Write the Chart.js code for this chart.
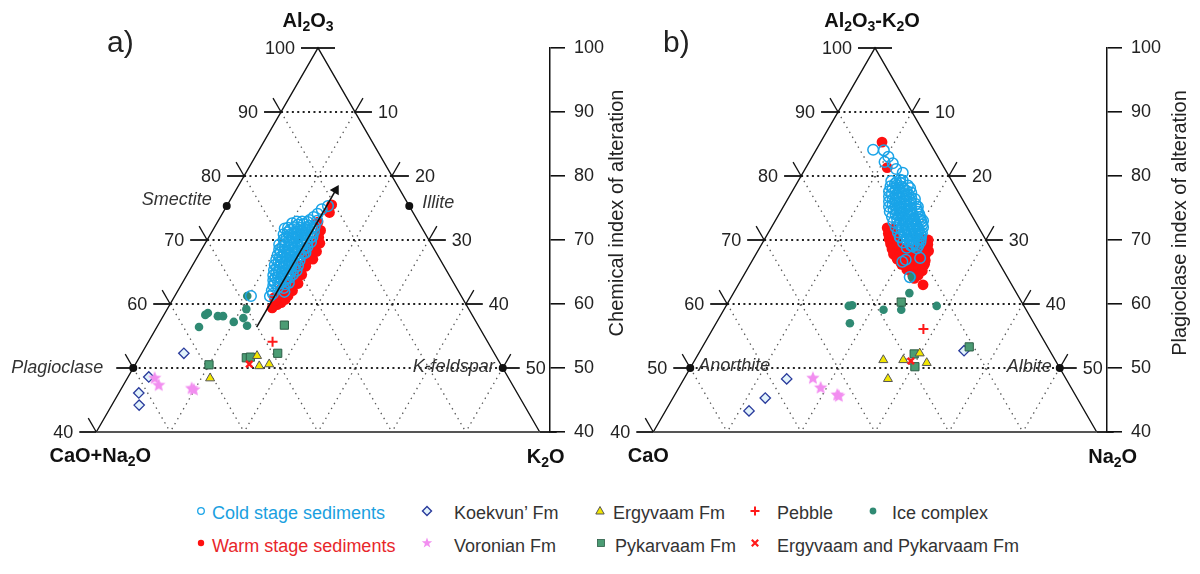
<!DOCTYPE html>
<html><head><meta charset="utf-8">
<script src="https://cdn.jsdelivr.net/npm/chart.js@4.4.0/dist/chart.umd.min.js"></script>
<style>
html,body{margin:0;padding:0;background:#fff;width:1200px;height:574px;overflow:hidden;font-family:"Liberation Sans",Arial,Helvetica,sans-serif;}
#chartA{position:absolute;left:0;top:0;}
#chartB{position:absolute;left:600px;top:0;}
.lg{position:absolute;font-size:18px;line-height:20px;color:#333;white-space:nowrap;}
.mk{position:absolute;width:16px;height:16px;}
</style></head><body>
<canvas id="chartA" width="640" height="470"></canvas>
<canvas id="chartB" width="597" height="470"></canvas>
<div id="legend"></div>
<script>
// ================= DATA =================
const aLevels = [100, 90, 80, 70, 60, 50, 40];
const gridLevels = [10, 20, 30, 40, 50];
const leftTickLabelsA  = ['100','90','80','70','60','','40'];
const rightTickLabelsA = ['','10','20','30','40','50',''];
const leftTickLabelsB  = ['100','90','80','70','60','50','40'];
const rightTickLabelsB = ['','10','20','30','40','50',''];
const indexTicks = [40, 50, 60, 70, 80, 90, 100];

// ---- panel a: pairs [Al2O3, K2O] (CaO+Na2O = 100 - both) ----
const coldStageA = [
 [75.3,13.7],[74.8,13.1],[74.1,12.9],[73.6,12.6],[73.1,12.3],[73.0,13.4],
 [72.6,10.2],[72.4,11.1],[72.5,11.8],[72.2,12.7],[72.1,13.5],
 [71.8,9.6],[71.6,10.4],[71.7,11.3],[71.4,12.1],[71.6,12.9],[71.3,13.8],
 [70.9,9.9],[70.8,10.8],[71.0,11.6],[70.6,12.4],[70.8,13.2],[70.5,14.0],
 [70.1,10.3],[69.9,11.1],[70.2,11.9],[69.8,12.7],[70.0,13.5],[69.7,14.2],
 [69.3,10.1],[69.1,10.9],[69.3,11.7],[68.9,12.5],[69.2,13.3],[68.9,14.1],
 [68.5,10.5],[68.2,11.3],[68.5,12.1],[68.1,12.9],[68.4,13.7],[68.0,14.3],
 [67.7,10.7],[67.4,11.5],[67.7,12.3],[67.3,13.1],[67.6,13.9],
 [66.9,10.9],[66.6,11.7],[66.9,12.5],[66.5,13.3],[66.8,14.1],
 [66.1,11.1],[65.8,11.9],[66.1,12.7],[65.7,13.5],[66.0,14.3],
 [65.3,11.4],[65.0,12.2],[65.3,13.0],[64.9,13.8],[65.2,14.5],
 [64.5,11.7],[64.2,12.5],[64.5,13.3],[64.1,14.1],
 [63.7,12.1],[63.4,12.9],[63.7,13.7],[63.3,14.4],
 [62.9,12.5],[62.6,13.3],[62.5,14.1],
 [62.1,12.7],[61.6,13.1],[61.9,14.5],[61.2,12.9],[61.25,10.3],
 [72.9,11.4],[72.8,12.2],[72.9,10.7],
 [71.9,10.0],[72.0,10.8],[71.9,11.7],[72.0,12.5],[71.8,13.3],
 [71.2,10.3],[71.1,11.2],[71.3,12.0],[71.0,12.8],[71.1,13.6],
 [70.5,10.5],[70.4,11.4],[70.6,12.1],[70.3,12.9],[70.4,13.8],
 [69.7,10.6],[69.6,11.5],[69.7,12.3],[69.4,13.0],[69.5,13.8],
 [68.9,10.7],[68.8,11.6],[68.9,12.2],[68.6,13.0],[68.7,13.9],
 [68.1,10.9],[68.0,11.8],[68.1,12.6],[67.9,13.4],[67.9,14.1],
 [67.3,11.2],[67.2,12.0],[67.3,12.8],[67.0,13.6],
 [66.5,11.4],[66.4,12.2],[66.5,13.0],[66.3,13.8],
 [65.7,11.6],[65.6,12.4],[65.7,13.2],[65.5,14.0],
 [64.9,11.9],[64.8,12.7],[64.9,13.5],[64.6,14.3],
 [64.1,12.2],[64.0,13.0],[64.0,13.8],
 [63.3,12.5],[63.2,13.3],[63.1,14.0]
];
const warmStageA = [
 [75.5,14.1],[74.3,14.4],[72.8,13.6],[71.5,14.6],[70.4,14.9],[69.6,15.1],[69.0,14.8],[68.3,15.3],
 [67.8,15.0],[67.1,15.5],[66.5,15.1],[65.9,15.4],[65.2,15.0],[64.6,15.5],[64.0,15.2],[63.5,14.9],
 [63.2,15.7],[62.8,15.1],[62.4,14.6],[62.1,15.5],[61.8,14.9],[61.5,14.3],[61.3,15.3],[61.0,14.7],
 [60.7,15.2],[60.5,14.4],[60.2,14.9],[59.9,14.5],[59.4,14.1],[63.0,14.2],[62.3,13.8],[61.0,13.6],
 [60.6,13.9],[64.8,14.6],[66.0,14.6],[67.5,14.5],[68.8,14.4],[67.0,15.8],[68.2,15.7],[69.5,15.5]
];
const koekvunA   = [[52.3,5.7],[48.6,2.8],[46.1,2.7],[44.2,3.7]];
const voronianA  = [[48.4,3.7],[47.3,4.8],[46.6,9.9],[46.8,9.5]];
const ergyvaamA  = [[48.4,11.2],[51.9,15.8],[50.3,16.9],[50.6,18.1]];
const pykarvaamA = [[50.5,10.0],[51.6,14.5],[51.7,15.0],[52.3,18.4],[56.7,17.1]];
const pebbleA    = [[54.1,16.8]];
const ergPykA    = [[50.6,15.4]];
const iceComplexA = [[61.25,9.8],[58.6,5.8],[58.3,5.6],[58.1,7.4],[58.1,8.1],[59.2,10.7],[57.8,11.0],[57.2,10.0],[56.6,12.1],[56.4,5.7]];
const arrowAlA = [56.4, 78.6];
const arrowKA  = [13.5, 13.5];
const mineralNamesA = ['Smectite','Illite','Plagioclase','K-feldspar'];
const mineralAlA = [75.3, 75.3, 50, 50];
const mineralKA  = [0, 24.7, 0, 50];

// ---- panel b: pairs [Al2O3-K2O, Na2O] (CaO = 100 - both) ----
const coldStageB = [
 [84.1,7.7],[84.0,9.2],[83.0,10.3],[82.2,10.2],[82.0,11.4],[81.1,12.3],[80.5,13.5],[79.4,13.7],
 [79.2,12.6],[79.0,13.4],[79.3,14.1],
 [78.4,12.9],[78.6,13.7],[78.3,14.5],[78.5,15.2],
 [77.6,13.1],[77.8,13.9],[77.5,14.6],[77.7,15.4],[77.4,16.2],
 [76.8,13.5],[77.0,14.3],[76.7,15.0],[76.9,15.8],[76.6,16.6],
 [76.0,13.9],[76.2,14.7],[75.9,15.4],[76.1,16.2],[75.8,17.0],
 [75.2,14.3],[75.4,15.1],[75.1,15.8],[75.3,16.6],[75.0,17.4],[75.2,18.2],
 [74.4,14.8],[74.6,15.6],[74.3,16.3],[74.5,17.1],[74.2,17.9],[74.4,18.6],
 [73.6,15.5],[73.8,16.3],[73.5,17.0],[73.7,17.8],[73.4,18.6],[73.6,19.3],
 [72.8,16.1],[73.0,16.9],[72.7,17.6],[72.9,18.4],[72.6,19.2],[72.8,19.9],
 [72.0,16.8],[72.2,17.6],[71.9,18.3],[72.1,19.1],[71.8,19.9],[72.0,20.5],
 [71.2,17.5],[71.4,18.3],[71.1,19.0],[71.3,19.8],[71.0,20.6],
 [70.4,18.2],[70.6,19.0],[70.3,19.7],[70.5,20.5],[70.2,21.1],
 [69.6,19.0],[69.8,19.8],[69.5,20.5],[69.7,21.3],
 [68.8,19.9],[69.0,20.6],[68.7,21.3],
 [66.6,20.4],[66.9,20.7],[64.2,22.6],[67.2,22.5],[70.5,18.1],[69.1,20.5],[69.1,21.3],[73.0,20.0],[71.1,20.8],
 [78.8,13.3],[78.9,14.0],[78.0,13.4],[78.1,14.2],[78.0,14.9],[78.1,15.7],
 [77.2,13.7],[77.3,14.5],[77.2,15.3],[77.1,16.0],
 [76.4,14.2],[76.5,15.0],[76.4,15.8],[76.3,16.6],[76.4,17.2],
 [75.6,14.6],[75.7,15.4],[75.6,16.2],[75.5,17.0],[75.6,17.7],
 [74.8,15.1],[74.9,15.9],[74.8,16.7],[74.7,17.5],[74.8,18.3],
 [74.0,15.8],[74.1,16.6],[74.0,17.4],[73.9,18.2],[74.0,19.0],
 [73.2,16.4],[73.3,17.2],[73.2,18.0],[73.1,18.8],[73.2,19.6],
 [72.4,17.1],[72.5,17.9],[72.4,18.7],[72.3,19.5],[72.4,20.2],
 [71.6,17.8],[71.7,18.6],[71.6,19.4],[71.5,20.2],
 [70.8,18.6],[70.9,19.4],[70.8,20.1],[70.7,20.9],
 [70.0,19.3],[70.1,20.1],[70.0,20.9],
 [69.2,20.2],[69.3,21.0]
];
const warmStageB = [
 [85.3,8.3],[81.3,11.0],
 [71.9,15.7],[71.7,16.5],[71.0,16.3],[70.9,17.2],[70.2,16.8],[70.3,17.6],[70.1,21.6],[70.0,22.2],
 [69.4,17.4],[69.3,18.3],[69.5,21.2],[69.3,22.5],
 [68.6,18.0],[68.5,18.9],[68.7,19.8],[68.4,20.8],[68.6,21.8],[68.4,22.7],[68.3,23.1],
 [67.8,18.6],[67.7,19.5],[67.9,20.4],[67.6,21.3],[67.8,22.2],[67.6,23.0],
 [67.0,19.5],[66.9,20.3],[67.1,21.2],[66.8,22.0],[67.0,22.8],[66.8,23.4],
 [66.2,20.5],[66.1,21.3],[66.3,22.2],[66.0,23.0],[66.2,23.6],
 [65.4,21.6],[65.3,22.4],[65.5,23.2],[65.2,23.8],
 [64.6,22.8],[64.5,23.6],[64.0,23.3],[63.0,25.0]
];
const koekvunB   = [[52.7,35.7],[48.3,13.9],[45.3,12.5],[43.3,11.3]];
const voronianB  = [[48.4,17.4],[46.9,19.2],[45.8,22.0],[45.6,22.3]];
const ergyvaamB  = [[51.25,25.5],[51.25,28.2],[52.3,29.9],[50.8,31.6],[48.3,27.6]];
const pykarvaamB = [[60.3,23.4],[52.2,29.2],[50.2,30.3],[53.3,36.1]];
const pebbleB    = [[56.1,28.5]];
const ergPykB    = [[51.1,29.3]];
const iceComplexB = [[59.8,17.0],[59.7,16.6],[57.0,18.1],[59.1,21.6],[59.1,24.0],[61.7,23.8],[64.2,22.9],[59.7,28.5]];
const mineralNamesB = ['Anorthite','Albite'];
const mineralAlB = [50, 50];
const mineralNaB = [0, 50];

// legend
const legendLabels = ['Cold stage sediments','Koekvun\u2019 Fm','Ergyvaam Fm','Pebble','Ice complex',
                      'Warm stage sediments','Voronian Fm','Pykarvaam Fm','Ergyvaam and Pykarvaam Fm'];
const legendKeys = ['cold','koek','ergy','peb','ice','warm','voro','pyk','ep'];

// ================= STYLE / HELPERS =================
const FONT = '"Liberation Sans", Arial, Helvetica, sans-serif';
const COL = {cold:'#1aa4e8', warm:'#ff1010', koekS:'#2a3b9c', koekF:'#e2f3fb', voro:'#f28ef0',
  ergyF:'#f2e600', ergyS:'#555', pykF:'#4b9c74', pykS:'#2d5e47', red:'#ff1a1a', ice:'#2f8a73'};

function starCanvas(r, fill){
  const c = document.createElement('canvas'); const s = Math.ceil(r*2+2);
  c.width = c.height = s; const g = c.getContext('2d');
  g.beginPath();
  for (let i=0;i<10;i++){ const an = -Math.PI/2 + i*Math.PI/5; const rr = i%2 ? r*0.45 : r;
    g.lineTo(s/2 + rr*Math.cos(an), s/2 + rr*Math.sin(an)); }
  g.closePath(); g.fillStyle = fill; g.fill(); return c;
}
const starImg = starCanvas(7, COL.voro);

const toXY = pairs => pairs.map(([a, r]) => ({x: r + a/2, y: a}));

function pointsDS(label, pairs, st, order){
  return Object.assign({label, data: toXY(pairs), order, clip:false, showLine:false}, st);
}

function seriesSets(d){
  return [
    pointsDS('Ergyvaam and Pykarvaam Fm', d.ergPyk, {pointStyle:'crossRot', pointRadius:4.5, borderColor:COL.red, borderWidth:2.5}, 3),
    pointsDS('Pebble', d.pebble, {pointStyle:'cross', pointRadius:5, borderColor:COL.red, borderWidth:2}, 4),
    pointsDS('Ergyvaam Fm', d.ergy, {pointStyle:'triangle', pointRadius:5.2, backgroundColor:COL.ergyF, borderColor:COL.ergyS, borderWidth:1}, 5),
    pointsDS('Pykarvaam Fm', d.pyk, {pointStyle:'rect', pointRadius:5.8, backgroundColor:COL.pykF, borderColor:COL.pykS, borderWidth:1}, 6),
    pointsDS('Voronian Fm', d.voro, {pointStyle:starImg, pointRadius:7}, 7),
    pointsDS('Koekvun\u2019 Fm', d.koek, {pointStyle:'rectRot', pointRadius:5.2, backgroundColor:COL.koekF, borderColor:COL.koekS, borderWidth:1.3}, 8),
    pointsDS('Cold stage sediments', d.cold, {pointStyle:'circle', pointRadius:5.3, backgroundColor:'rgba(0,0,0,0)', borderColor:COL.cold, borderWidth:1.5}, 10),
    pointsDS('Ice complex', d.ice, {pointStyle:'circle', pointRadius:4.3, backgroundColor:COL.ice, borderColor:COL.ice, borderWidth:0}, 11),
    pointsDS('Warm stage sediments', d.warm, {pointStyle:'circle', pointRadius:5.4, backgroundColor:COL.warm, borderColor:COL.warm, borderWidth:0}, 12),
    pointsDS('minerals', d.minPairs, {pointStyle:'circle', pointRadius:4, backgroundColor:'#111', borderColor:'#111', borderWidth:0}, 2)
  ];
}

function richText(ctx, parts, x, y, size, align, bold){
  const w0 = bold ? 'bold ' : '';
  const big = `${w0}${size}px ${FONT}`, small = `${w0}${Math.round(size*0.68)}px ${FONT}`;
  let w = 0; parts.forEach(([t,s]) => { ctx.font = s?small:big; w += ctx.measureText(t).width; });
  let cx = align==='center' ? x - w/2 : (align==='right' ? x - w : x);
  ctx.textAlign = 'left'; ctx.textBaseline = 'alphabetic';
  parts.forEach(([t,s]) => { ctx.font = s?small:big; ctx.fillText(t, cx, s ? y + size*0.22 : y); cx += ctx.measureText(t).width; });
}

const ternaryPlugin = {
  id: 'ternary',
  beforeDatasetsDraw(chart, args, o){
    const ctx = chart.ctx, xs = chart.scales.x, ys = chart.scales.y;
    const P = (a, r) => [xs.getPixelForValue(r + a/2), ys.getPixelForValue(a)];
    const seg = (p, q) => { ctx.beginPath(); ctx.moveTo(p[0], p[1]); ctx.lineTo(q[0], q[1]); ctx.stroke(); };
    const lo = aLevels[aLevels.length-1];
    ctx.save();
    ctx.setLineDash([1.4, 4.3]); ctx.lineWidth = 1.3; ctx.strokeStyle = '#555';
    gridLevels.forEach(g => { seg(P(100-g, g), P(lo, g)); seg(P(100-g, 0), P(lo, 100-lo-g)); });
    ctx.setLineDash([2, 3.4]); ctx.lineWidth = 2; ctx.strokeStyle = '#222';
    gridLevels.forEach(g => seg(P(100-g, 0), P(100-g, g)));
    ctx.setLineDash([]);
    const ap = P(100,0), lv = P(lo,0), rv = P(lo,100-lo);
    ctx.lineWidth = 1.4; ctx.strokeStyle = '#111';
    ctx.beginPath(); ctx.moveTo(lv[0],lv[1]); ctx.lineTo(ap[0],ap[1]); ctx.lineTo(rv[0],rv[1]); ctx.stroke();
    ctx.lineWidth = 2; ctx.strokeStyle = '#555'; seg(lv, rv);
    ctx.strokeStyle = '#111';
    const hT = 2.3, sT = 2.17;
    aLevels.forEach(a => {
      const L = P(a, 0), R = P(a, 100 - a);
      ctx.lineWidth = 1.8;
      seg(L, P(a, -hT)); seg(R, P(a, 100 - a + hT));
      ctx.lineWidth = 1.3;
      if (a < 100) seg(L, P(a + sT, -sT));
      if (a < 100 && a > lo) seg(R, P(a + sT, 100 - a));
    });
    ctx.restore();
  },
  afterDraw(chart, args, o){
    const ctx = chart.ctx, xs = chart.scales.x, ys = chart.scales.y;
    const P = (a, r) => [xs.getPixelForValue(r + a/2), ys.getPixelForValue(a)];
    const lo = aLevels[aLevels.length-1];
    ctx.save();
    ctx.fillStyle = '#222'; ctx.font = `18px ${FONT}`; ctx.textBaseline = 'middle';
    aLevels.forEach((a, i) => {
      const L = P(a, 0), R = P(a, 100 - a);
      if (o.leftLabels[i]) { ctx.textAlign = 'right'; ctx.fillText(o.leftLabels[i], L[0] - 23, L[1] + 1); }
      if (o.rightLabels[i]) { ctx.textAlign = 'left'; ctx.fillText(o.rightLabels[i], R[0] + 23, R[1] + 1); }
    });
    ctx.font = `italic 18px ${FONT}`; ctx.fillStyle = '#333';
    o.minNames.forEach((n, i) => {
      const p = P(o.minAl[i], o.minR[i]); const s = o.minStyle[i];
      ctx.textAlign = s[0]; ctx.fillText(n, p[0] + s[1], p[1] + s[2]);
    });
    ctx.fillStyle = '#222'; ctx.font = `30px ${FONT}`; ctx.textAlign = 'left'; ctx.textBaseline = 'middle';
    ctx.fillText(o.panel, o.panelX, 44);
    const ap = P(100,0), lv = P(lo,0), rv = P(lo,100-lo);
    ctx.fillStyle = '#111';
    richText(ctx, o.top, ap[0] + o.topDx, 27, 20, 'center', true);
    richText(ctx, o.left, lv[0] + o.leftDx, 462, 20, 'center', true);
    richText(ctx, o.right, rv[0] + o.rightDx, 463, 20, 'center', true);
    ctx.save(); ctx.translate(chart.chartArea.right + o.titleDx, o.titleY); ctx.rotate(-Math.PI/2);
    ctx.textAlign = 'center'; ctx.textBaseline = 'middle'; ctx.font = `20px ${FONT}`; ctx.fillStyle = '#222';
    ctx.fillText(o.axisTitle, 0, 0); ctx.restore();
    ctx.restore();
  }
};

function makeChart(id, apexPx, canvasW, datasets, pOpts){
  const axisW = 90, top = 48, bottom = 432, H = 470;
  const ymin = indexTicks[0], ymax = indexTicks[indexTicks.length-1];
  const chart = new Chart(document.getElementById(id), {
    type: 'scatter',
    data: {datasets},
    options: {
      responsive:false, animation:false, devicePixelRatio:1,
      layout:{padding:{top: top, bottom: H - bottom, left:0, right:0}},
      plugins:{legend:{display:false}, tooltip:{enabled:false}, ternary:pOpts},
      scales:{
        x:{type:'linear', display:false, min:0, max:100},
        y:{type:'linear', position:'right', min:ymin, max:ymax,
           afterFit(s){ s.width = axisW; },
           ticks:{stepSize:indexTicks[1]-indexTicks[0], padding:9, color:'#222', font:{size:18, family:FONT}},
           grid:{drawOnChartArea:false, drawTicks:true, tickLength:15, color:'#111', lineWidth:1.6},
           border:{display:true, color:'#111', width:1.5}}
      }
    },
    plugins:[ternaryPlugin]
  });
  // equilateral geometry: match horizontal scale to the vertical one using the real chart area
  const ca = chart.chartArea;
  const k = ((ca.bottom - ca.top) / (ymax - ymin)) / (Math.sqrt(3)/2);
  chart.options.scales.x.min = 50 - (apexPx - ca.left) / k;
  chart.options.scales.x.max = 50 + (ca.right - apexPx) / k;
  chart.update('none');
  return chart;
}

// ---- panel a ----
const dsA = seriesSets({cold:coldStageA, warm:warmStageA, koek:koekvunA, voro:voronianA, ergy:ergyvaamA,
  pyk:pykarvaamA, pebble:pebbleA, ergPyk:ergPykA, ice:iceComplexA,
  minPairs: mineralAlA.map((a,i)=>[a, mineralKA[i]])});
dsA.push({label:'arrow', type:'line', data: toXY(arrowAlA.map((a,i)=>[a - (i? 0.6:0), arrowKA[i]])), borderColor:'#111', borderWidth:1.6, pointRadius:0, order:1, clip:false});
dsA.push({label:'arrowhead', data: toXY([[arrowAlA[1]-0.8, arrowKA[1]]]), pointStyle:'triangle', rotation:30, pointRadius:6, backgroundColor:'#111', borderColor:'#111', borderWidth:0, order:0, clip:false});
makeChart('chartA', 318, 640, dsA, {
  leftLabels:leftTickLabelsA, rightLabels:rightTickLabelsA,
  minNames:mineralNamesA, minAl:mineralAlA, minR:mineralKA,
  minStyle:[['right',-15,-6],['left',13,-3],['right',-30,0],['right',-8,-1]],
  panel:'a)', panelX:107,
  top:[['Al',0],['2',1],['O',0],['3',1]], topDx:-10,
  left:[['CaO+Na',0],['2',1],['O',0]], leftDx:4,
  right:[['K',0],['2',1],['O',0]], rightDx:6,
  axisTitle:'Chemical index of alteration', titleDx:67, titleY:213
});

// ---- panel b ----
const dsB = seriesSets({cold:coldStageB, warm:warmStageB, koek:koekvunB, voro:voronianB, ergy:ergyvaamB,
  pyk:pykarvaamB, pebble:pebbleB, ergPyk:ergPykB, ice:iceComplexB,
  minPairs: mineralAlB.map((a,i)=>[a, mineralNaB[i]])});
makeChart('chartB', 275, 597, dsB, {
  leftLabels:leftTickLabelsB, rightLabels:rightTickLabelsB,
  minNames:mineralNamesB, minAl:mineralAlB, minR:mineralNaB,
  minStyle:[['left',8,-2],['right',-8,-1]],
  panel:'b)', panelX:63,
  top:[['Al',0],['2',1],['O',0],['3',1],['-K',0],['2',1],['O',0]], topDx:-3,
  left:[['CaO',0]], leftDx:-5,
  right:[['Na',0],['2',1],['O',0]], rightDx:16,
  axisTitle:'Plagioclase index of alteration', titleDx:73, titleY:223
});

// ---- legend (HTML) ----
const legendPos = [[201,212,513],[427,454,513],[600,613,513],[755,777,513],[873,892,513],
                   [201,212,546],[427,454,546],[601,615,546],[755,777,546]];
const markerSVG = {
  cold:'<circle cx="8" cy="8" r="3.3" fill="none" stroke="'+COL.cold+'" stroke-width="1.3"/>',
  warm:'<circle cx="8" cy="8" r="3.2" fill="'+COL.warm+'"/>',
  koek:'<polygon points="8,3.5 12.5,8 8,12.5 3.5,8" fill="'+COL.koekF+'" stroke="'+COL.koekS+'" stroke-width="1.4"/>',
  voro:'<polygon points="8,2.5 9.4,6.3 13.2,6.3 10.1,8.7 11.3,12.5 8,10.2 4.7,12.5 5.9,8.7 2.8,6.3 6.6,6.3" fill="'+COL.voro+'"/>',
  ergy:'<polygon points="8,3.5 12.2,11 3.8,11" fill="'+COL.ergyF+'" stroke="'+COL.ergyS+'" stroke-width="1"/>',
  pyk:'<rect x="4.5" y="4.5" width="7" height="7" fill="'+COL.pykF+'" stroke="'+COL.pykS+'" stroke-width="0.8"/>',
  peb:'<path d="M8 3.5 V12.5 M3.5 8 H12.5" stroke="'+COL.red+'" stroke-width="2"/>',
  ice:'<circle cx="8" cy="8" r="3.4" fill="'+COL.ice+'"/>',
  ep:'<path d="M4.8 4.8 L11.2 11.2 M11.2 4.8 L4.8 11.2" stroke="'+COL.red+'" stroke-width="2.2"/>'
};
const textCol = {cold:'#1aa0e0', warm:'#e8262a'};
const lg = document.getElementById('legend');
legendLabels.forEach((t, i) => {
  const [mx, tx, y] = legendPos[i]; const key = legendKeys[i];
  const my = (i < 5) ? y - 2 : y - 3;
  lg.insertAdjacentHTML('beforeend',
    `<svg class="mk" style="left:${mx-8}px;top:${my-8}px" viewBox="0 0 16 16">${markerSVG[key]}</svg>` +
    `<div class="lg" style="left:${tx}px;top:${y-10}px;color:${textCol[key]||'#333'}">${t}</div>`);
});
</script>
</body></html>
